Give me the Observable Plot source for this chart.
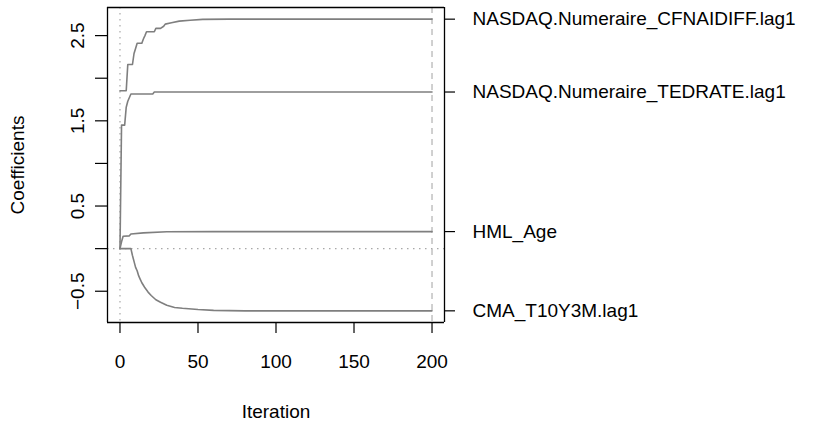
<!DOCTYPE html>
<html>
<head>
<meta charset="utf-8">
<script src="https://cdn.jsdelivr.net/npm/d3@7"></script>
<script src="https://cdn.jsdelivr.net/npm/@observablehq/plot@0.6"></script>
<style>
  html, body { margin: 0; padding: 0; background: white; }
</style>
</head>
<body>
<div id="chart"></div>
<script>
// ---- data ----
const iterTicks = [0, 50, 100, 150, 200];
const coefTicks = [-0.5, 0, 0.5, 1, 1.5, 2, 2.5];
const coefLabels = [-0.5, 0.5, 1.5, 2.5];

const seriesNames = [
  "NASDAQ.Numeraire_CFNAIDIFF.lag1",
  "NASDAQ.Numeraire_TEDRATE.lag1",
  "HML_Age",
  "CMA_T10Y3M.lag1"
];

// knots: [iteration, coefficient]
const cfnaidiff = [
  [0, 1.853], [4, 1.853], [5, 2.161], [8, 2.161], [9, 2.29], [10, 2.35], [11, 2.41],
  [14, 2.41], [15, 2.46], [16, 2.50], [17, 2.545], [22, 2.545], [23, 2.585],
  [26, 2.585], [28, 2.61], [29, 2.635], [33, 2.65], [38, 2.67], [45, 2.68],
  [53, 2.69], [70, 2.693], [200, 2.693]
];
const tedrate = [
  [0, 0], [1, 1.45], [3, 1.45], [4, 1.66], [5, 1.73], [7, 1.815], [21, 1.815],
  [22, 1.838], [200, 1.838]
];
const hmlAge = [
  [0, 0], [1, 0.08], [2, 0.145], [6, 0.15], [7, 0.172], [15, 0.185], [30, 0.198],
  [60, 0.2], [200, 0.2]
];
const cmaT10y3m = [
  [0, 0], [7, 0], [8, -0.08], [9, -0.15], [10, -0.22], [11, -0.26], [12, -0.32],
  [13, -0.36], [14, -0.40], [15, -0.43], [16, -0.46], [18, -0.51], [20, -0.55],
  [23, -0.60], [26, -0.63], [30, -0.665], [35, -0.69], [40, -0.70], [50, -0.715],
  [60, -0.725], [80, -0.73], [200, -0.73]
];

const seriesKnots = [cfnaidiff, tedrate, hmlAge, cmaT10y3m];

// ---- build table ----
const rows = [];
seriesKnots.forEach((knots, k) => {
  knots.forEach(([it, v]) => rows.push({ name: seriesNames[k], iter: it, coef: v }));
});
const finals = seriesKnots.map(k => k[k.length - 1][1]);
const nameByFinal = new Map(finals.map((v, i) => [v, seriesNames[i]]));

const fmt = d => (d < 0 ? "\u2212" : "") + Math.abs(d).toFixed(1);

// domains with 4% extension as in R
const xr = [0, 200];
const xExt = (xr[1] - xr[0]) * 0.04;
const xDomain = [xr[0] - xExt, xr[1] + xExt];
const yMin = d3.min(rows, d => d.coef), yMax = d3.max(rows, d => d.coef);
const yExt = (yMax - yMin) * 0.04;
const yDomain = [yMin - yExt, yMax + yExt];

const FONT = 19;

const chart = Plot.plot({
  width: 818,
  height: 421,
  marginLeft: 107,
  marginRight: 374,
  marginTop: 7,
  marginBottom: 99,
  style: {
    fontFamily: "'Liberation Sans', Arial, Helvetica, sans-serif",
    fontSize: FONT + "px",
    background: "white",
    color: "black"
  },
  x: { domain: xDomain },
  y: { domain: yDomain },
  marks: [
    Plot.ruleX([0], { stroke: "#a8a8a8", strokeDasharray: "1.5,4.5", strokeWidth: 1.2 }),
    Plot.ruleY([0], { stroke: "#a8a8a8", strokeDasharray: "1.5,4.5", strokeWidth: 1.2 }),
    Plot.ruleX([200], { stroke: "#bdbdbd", strokeDasharray: "6,5", strokeWidth: 1.4 }),
    Plot.line(rows, { x: "iter", y: "coef", z: "name", stroke: "#7f7f7f", strokeWidth: 1.6 }),
    // plot box
    Plot.ruleX(xDomain, { stroke: "black", strokeWidth: 1.3 }),
    Plot.ruleY(yDomain, { stroke: "black", strokeWidth: 1.3 }),
    Plot.axisX(iterTicks, {
      anchor: "bottom", tickSize: 11, tickPadding: 21, label: null,
      tickFormat: d => String(d), fontSize: FONT, stroke: "black", strokeWidth: 1.2
    }),
    Plot.axisY(coefTicks, {
      anchor: "left", tickSize: 12, label: null, tickFormat: () => "",
      stroke: "black", strokeWidth: 1.2
    }),
    Plot.axisY(coefLabels, {
      anchor: "left", tickSize: 0, tickPadding: 30, label: null, rotate: -90,
      textAnchor: "middle", tickFormat: fmt, fontSize: FONT
    }),
    Plot.axisY(finals, {
      anchor: "right", tickSize: 10, tickPadding: 18, label: null,
      textAnchor: "start", tickFormat: d => nameByFinal.get(d), fontSize: FONT,
      stroke: "black", strokeWidth: 1.2
    }),
    Plot.text(["Iteration"], {
      frameAnchor: "bottom", dy: 89, text: d => d, textAnchor: "middle",
      lineAnchor: "middle", fontSize: FONT
    }),
    Plot.text(["Coefficients"], {
      frameAnchor: "left", dx: -89.5, text: d => d, rotate: -90, textAnchor: "middle",
      lineAnchor: "middle", fontSize: FONT
    })
  ]
});

document.getElementById("chart").appendChild(chart);
</script>
</body>
</html>
